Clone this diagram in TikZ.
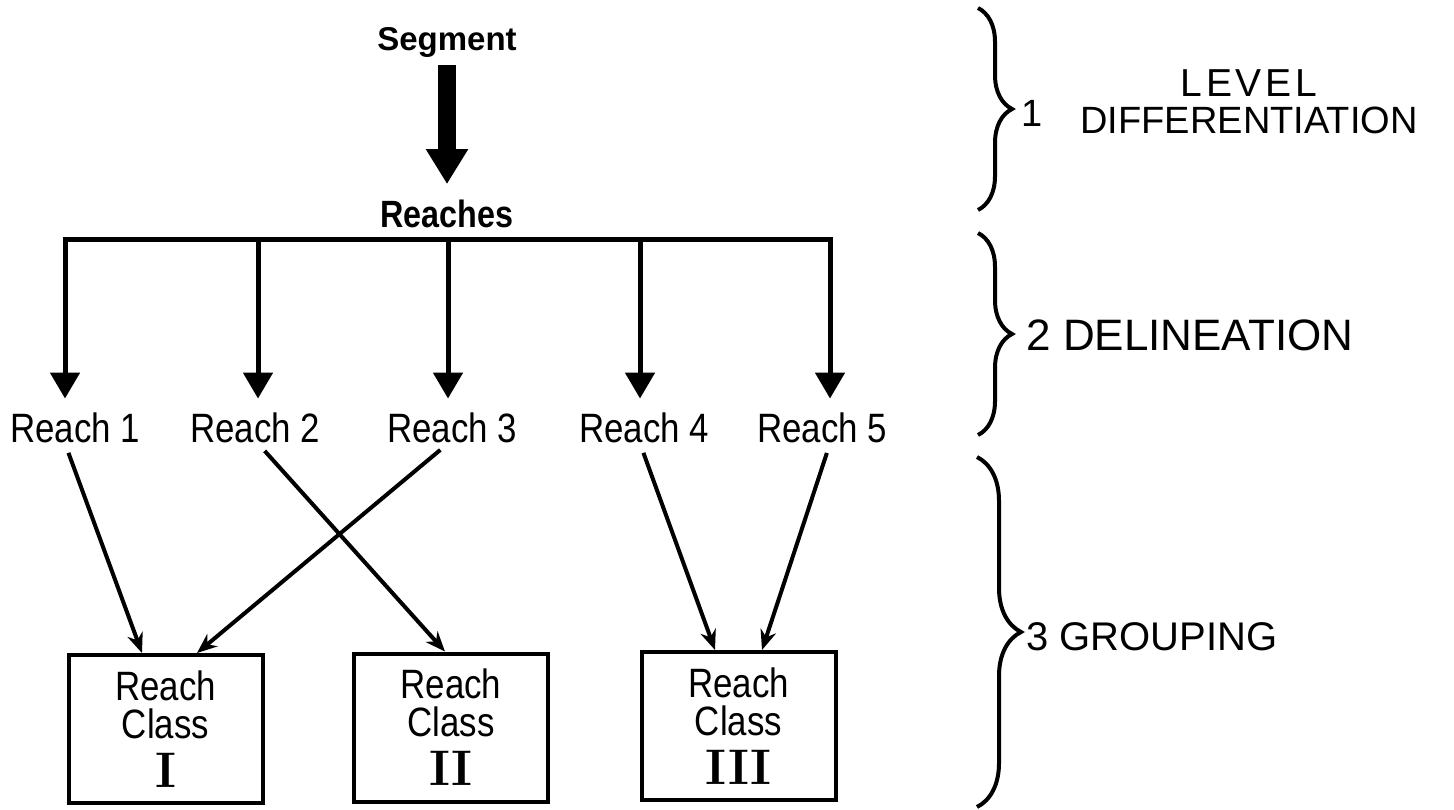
\documentclass[tikz,border=0pt]{standalone}
\usepackage{fontspec}
\newfontfamily\labfont[FakeStretch=0.85]{Liberation Sans}
\newfontfamily\sidefont{Liberation Sans}
\usetikzlibrary{positioning,arrows.meta,decorations.pathreplacing}

\begin{document}
\begin{tikzpicture}[
    x=0.5pt, y=-0.5pt,
    reach/.style={
      font=\labfont\fontsize{20.5}{20.5}\selectfont,
      inner sep=0pt
    },
    classbox/.style={
      draw,
      line width=2pt,
      minimum width=97pt,
      minimum height=74pt,
      align=center,
      font=\labfont\fontsize{20.5}{19}\selectfont,
      inner sep=0pt
    },
    side/.style={
      font=\sidefont\fontsize{19}{19}\selectfont,
      inner sep=0pt
    },
    heavy/.style={line width=2.5pt},
    link/.style={
      line width=2pt,
      shorten <=5pt,
      -{Stealth[length=10pt,width=8pt]}
    },
    mybrace/.style={
      decorate,
      line width=2pt,
      decoration={brace,amplitude=#1}
    }
    ]
    \useasboundingbox (0,0) rectangle (1454,809);

    \node[reach,font=\sidefont\bfseries\fontsize{16.5}{16.5}\selectfont,anchor=base] (seg) at (447,50) {Segment};
    \node[reach,font=\labfont\bfseries\fontsize{19}{19}\selectfont,anchor=base] (rchs) at (447,227) {Reaches};
    \draw[line width=9pt,shorten <=4pt,shorten >=7.5pt,-{Triangle[width=20pt,length=17.5pt]}] (seg) -- (rchs);

    \node[reach] (r1) at (75,428) {Reach 1};
    \node[reach] (r2) at (255,428) {Reach 2};
    \node[reach] (r3) at (452,428) {Reach 3};
    \node[reach] (r4) at (644,428) {Reach 4};
    \node[reach] (r5) at (822,428) {Reach 5};

    % bar and the five drop arrows
    \foreach \i/\x in {1/65,2/258,3/448,4/640,5/830}
      \coordinate (t\i) at (\x,239);
    \draw[heavy,line cap=rect] (t1) -- (t5);
    \foreach \i in {1,...,5}
      \draw[heavy,shorten >=7pt,-{Triangle[width=14.5pt,length=13pt]}] (t\i) -- (t\i |- r\i.north);

    \node[classbox] (c1) at (165.5,729) {Reach\\Class\\[5.5pt]{\rmfamily\bfseries\fontsize{25}{25}\selectfont I}};
    \node[classbox] (c2) at (451,727.5) {Reach\\Class\\[5.5pt]{\rmfamily\bfseries\fontsize{25}{25}\selectfont II}};
    \node[classbox] (c3) at (738.5,726) {Reach\\Class\\[5.5pt]{\rmfamily\bfseries\fontsize{25}{25}\selectfont III}};

    \draw[link] (r1.south -| t1) -- ([xshift=-11.75pt]c1.north);
    \draw[link] (r3.south -| t3) -- ([xshift=15.75pt]c1.north);
    \draw[link] (r2.south -| t2) -- ([xshift=-3pt]c2.north);
    \draw[link] (r4.south -| t4) -- ([xshift=-11.75pt]c3.north);
    \draw[link] (r5.south -| t5) -- ([xshift=11.75pt]c3.north);

    % braces on the right
    \coordinate (b1t) at (978,8);
    \coordinate (b1b) at (978,210);
    \coordinate (b2t) at (978,233);
    \coordinate (b2b) at (978,435);
    \coordinate (b3t) at (977,457);
    \coordinate (b3b) at (977,807);
    \draw[mybrace=17pt] (b1t) -- (b1b);
    \draw[mybrace=17pt] (b2t) -- (b2b);
    \draw[mybrace=22pt] (b3t) -- (b3b);

    \node[side] (one) at (1032,113) {1};
    \node[side] (diff) at (1249,120) {DIFFERENTIATION};
    \node[side,font=\sidefont\fontsize{19.5}{19.5}\selectfont\addfontfeature{LetterSpace=10},above=4.5pt of diff] (lev) {LEVEL};
    \node[side,font=\sidefont\fontsize{22}{22}\selectfont,anchor=west] (deli) at (1026,335) {2 DELINEATION};
    \node[side,font=\sidefont\fontsize{20}{20}\selectfont,anchor=west] (grp) at (1026,637) {3 GROUPING};
\end{tikzpicture}
\end{document}
